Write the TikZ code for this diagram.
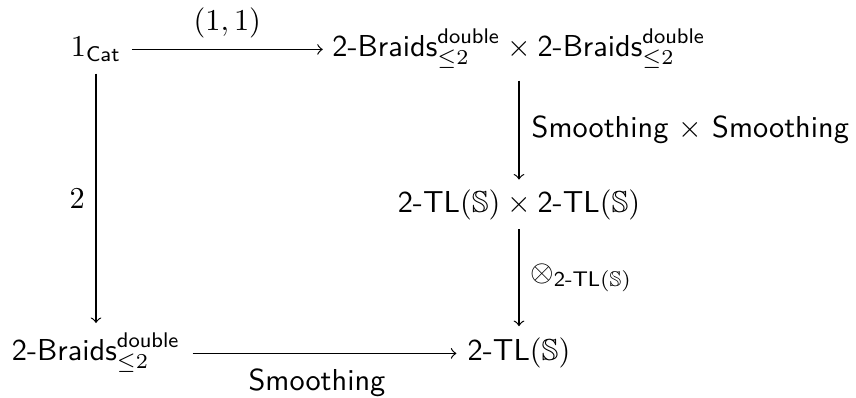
\documentclass[tikz,border=0pt]{standalone}
\usepackage{amsmath,amssymb}
\begin{document}
\begin{tikzpicture}[x=0.33pt,y=-0.33pt,
  obj/.style={anchor=base,inner sep=0pt},
  arr/.style={->,line width=0.4pt},
  lbl/.style={inner sep=0pt}]
\useasboundingbox (0,0) rectangle (856,398);
\node[obj] (A) at (96,57) {$1_{\mathsf{Cat}}$};
\node[obj] (B) at (519,57) {$\textsf{2-Braids}^{\textsf{double}}_{\leq 2}\times\textsf{2-Braids}^{\textsf{double}}_{\leq 2}$};
\node[obj] (C) at (519,212) {$\textsf{2-TL}(\mathbb{S})\times\textsf{2-TL}(\mathbb{S})$};
\node[obj] (D) at (96,361) {$\textsf{2-Braids}^{\textsf{double}}_{\leq 2}$};
\node[obj] (E) at (519,361) {$\textsf{2-TL}(\mathbb{S})$};
\draw[arr] ([xshift=3.4pt,yshift=2.5pt]A.base east) -- ([xshift=-3pt,yshift=2.5pt]B.base west)
  node[lbl,midway,above=3.5pt] {$(1,1)$};
\draw[arr] ([yshift=-3.8pt]A.south) -- ([yshift=3pt]D.north)
  node[lbl,midway,left=3.5pt] {$2$};
\draw[arr] ([yshift=-3.8pt]B.south) -- ([yshift=3pt]C.north)
  node[lbl,midway,right=4pt] {\textsf{Smoothing} $\times$ \textsf{Smoothing}};
\draw[arr] ([yshift=-3pt]C.south) -- ([yshift=3.8pt]E.north)
  node[lbl,midway,right=3.5pt] {$\otimes_{\textsf{2-TL}(\mathbb{S})}$};
\draw[arr] ([xshift=4pt,yshift=2.5pt]D.base east) -- ([xshift=-3.5pt,yshift=2.5pt]E.base west)
  node[lbl,midway,below=5pt,xshift=-2.5pt] {\textsf{Smoothing}};
\end{tikzpicture}
\end{document}
